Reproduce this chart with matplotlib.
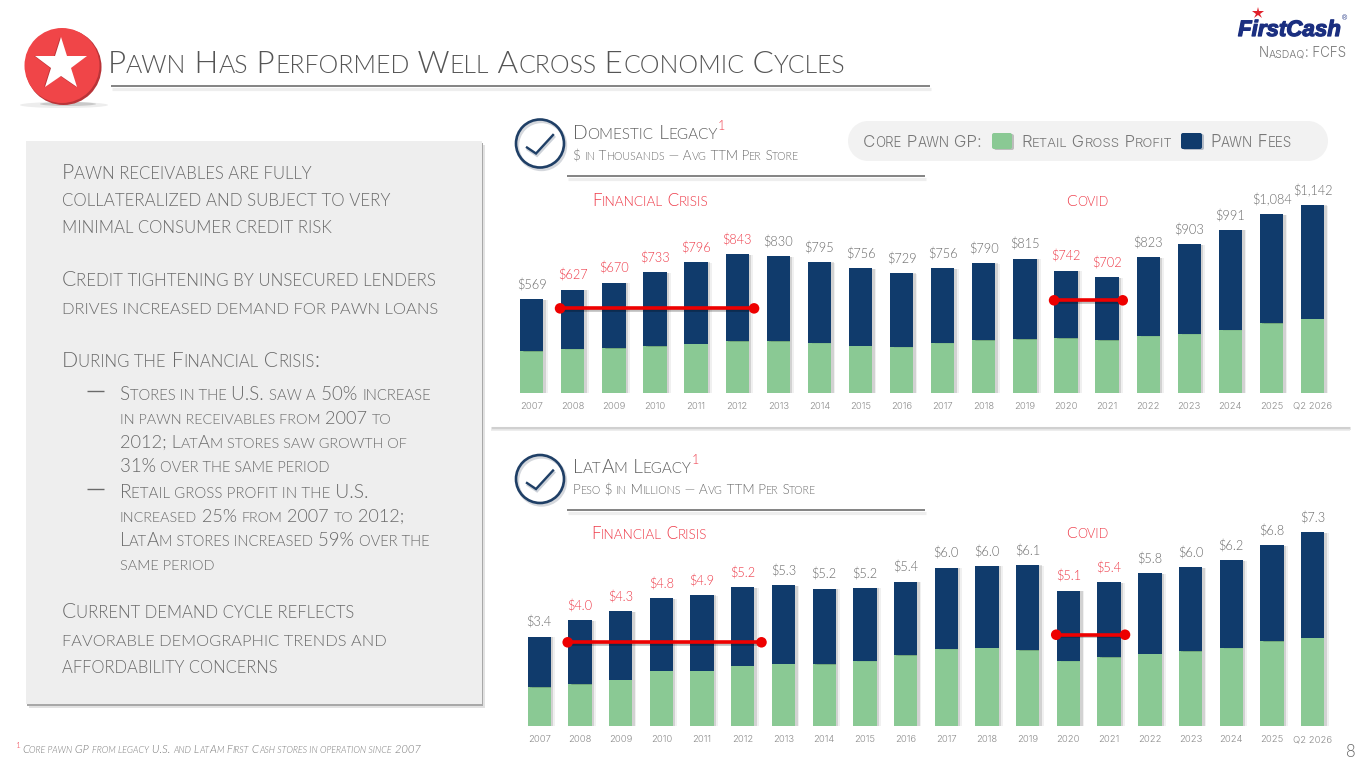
import re
import matplotlib
matplotlib.use('Agg')
import matplotlib.pyplot as plt
from matplotlib.font_manager import FontProperties
from matplotlib.patches import Rectangle, Circle, FancyBboxPatch, Ellipse
import matplotlib.patheffects as pe

# ---------- data ----------
years = ['2007', '2008', '2009', '2010', '2011', '2012', '2013', '2014', '2015', '2016',
         '2017', '2018', '2019', '2020', '2021', '2022', '2023', '2024', '2025', 'Q2 2026']

dom_retail = [251, 266, 270, 282, 298, 312, 312, 302, 286, 278,
              302, 318, 324, 330, 318, 345, 357, 381, 422, 450]
dom_fees = [318, 361, 400, 451, 498, 531, 518, 493, 470, 451,
            454, 472, 491, 412, 384, 478, 546, 610, 662, 692]
dom_labels = ['$569', '$627', '$670', '$733', '$796', '$843', '$830', '$795', '$756', '$729',
              '$756', '$790', '$815', '$742', '$702', '$823', '$903', '$991', '$1,084', '$1,142']

lat_retail = [1.46, 1.57, 1.75, 2.09, 2.09, 2.27, 2.35, 2.32, 2.45, 2.66,
              2.90, 2.95, 2.86, 2.45, 2.59, 2.73, 2.81, 2.94, 3.19, 3.33]
lat_fees = [1.91, 2.41, 2.57, 2.72, 2.85, 2.96, 2.96, 2.86, 2.76, 2.78,
            3.07, 3.09, 3.21, 2.65, 2.82, 3.02, 3.18, 3.30, 3.62, 3.97]
lat_labels = ['$3.4', '$4.0', '$4.3', '$4.8', '$4.9', '$5.2', '$5.3', '$5.2', '$5.2', '$5.4',
              '$6.0', '$6.0', '$6.1', '$5.1', '$5.4', '$5.8', '$6.0', '$6.2', '$6.8', '$7.3']

crisis_years = ['2008', '2009', '2010', '2011', '2012', '2020', '2021']

dom_crisis_x, dom_crisis_y = [0.69, 5.41], [513, 513]
dom_covid_x, dom_covid_y = [12.71, 14.38], [562, 562]
lat_crisis_x, lat_crisis_y = [0.70, 5.46], [3.155, 3.155]
lat_covid_x, lat_covid_y = [12.70, 14.39], [3.44, 3.44]

# ---------- style ----------
W, H = 1365, 768
FONT = 'Lato'
WIDE = 'Inter'
LW = 300
GREEN = '#8AC994'
NAVY = '#103B6C'
RED = '#EE3A48'
GRAY = '#6A6A6A'
LIGHT = '#8C8C8C'

fig = plt.figure(figsize=(W / 100, H / 100), dpi=100, facecolor='white')
bg = fig.add_axes([0, 0, 1, 1], zorder=0)
bg.set_xlim(0, W)
bg.set_ylim(H, 0)
bg.axis('off')
rend = fig.canvas.get_renderer()


def measure(s, fp):
    w1 = rend.get_text_width_height_descent('|' + s + '|', fp, False)[0]
    w0 = rend.get_text_width_height_descent('||', fp, False)[0]
    return w1 - w0


def sc(x, y, s, size, color=GRAY, width=None, family=FONT, weight=LW,
       style='normal', ratio=0.79, small=True, effects=None):
    """Draw s in small caps with its left edge at x and baseline at y (pixels)."""
    runs = []
    if small:
        for m in re.finditer(r'[a-z]+(?: [a-z]+)*|[^a-z]+', s):
            t = m.group(0)
            runs.append((t.upper(), t.islower()))
    else:
        runs = [(s, False)]

    def total(sz):
        out = 0
        for t, low in runs:
            fp = FontProperties(family=family, weight=weight, style=style,
                                size=sz * (ratio if low else 1))
            out += measure(t, fp)
        return out

    if width is not None:
        size = size * width / total(size)
    px = x
    for t, low in runs:
        sz = size * (ratio if low else 1)
        fp = FontProperties(family=family, weight=weight, style=style, size=sz)
        bg.text(px, y, t, fontproperties=fp, color=color, va='baseline', ha='left',
                path_effects=effects)
        px += measure(t, fp)
    return px


def rule(x0, x1, y, color='#7A7A7A', lw=1.3):
    bg.plot([x0 + 1, x1 + 1], [y + 2.5, y + 2.5], color='#EEEEEE', lw=lw + 1, solid_capstyle='butt')
    bg.plot([x0, x1], [y, y], color=color, lw=lw, solid_capstyle='butt')


def check_icon(cx, cy):
    bg.add_patch(Circle((cx + 1.5, cy + 2), 24, fill=False, ec='#D5D8DD', lw=2.4))
    bg.add_patch(Circle((cx, cy), 24, fill=False, ec='#1F3F66', lw=1.9))
    xs = [cx - 13, cx - 4, cx + 13]
    ys = [cy + 4, cy + 10, cy - 8.5]
    bg.plot([v + 1 for v in xs], [v + 2 for v in ys], color='#CDD2D9', lw=2.0, solid_joinstyle='miter')
    bg.plot(xs, ys, color='#1F3F66', lw=1.7, solid_joinstyle='miter')


# ---------- header ----------
bg.add_patch(Ellipse((64, 105), 88, 6, color='#EDEDED', lw=0))
bg.add_patch(Ellipse((68, 104), 56, 4, color='#C9C9C9', lw=0))
bg.add_patch(Circle((63.5, 67), 38, color='#B93438', lw=0))
bg.add_patch(Circle((62, 65.5), 37.5, color='#F04548', lw=0))
bg.plot([59.5], [64.5], marker='*', ms=40, color='#BF3236', mew=0)
bg.plot([61], [64.5], marker='*', ms=40, color='white', mew=0)

sc(108, 73, 'Pawn Has Performed Well Across Economic Cycles', 24, color='#555555', width=738)
rule(111, 930, 86)

# logo
sc(1238, 36, 'FirstCash', 26, color='#1B2F80', width=103,
   family=['Liberation Sans Narrow', 'Liberation Sans'], weight='bold', style='italic', small=False,
   effects=[pe.withStroke(linewidth=0.9, foreground='#1B2F80')])
bg.plot([1258], [12.5], marker='*', ms=9, color='#E0202A', mew=0)
bg.text(1342, 20, '®', family='Liberation Sans', size=5, color='#1B2F80', va='baseline', ha='left')
sc(1259, 57, 'Nasdaq: FCFS', 10, color='#777777', family=WIDE, width=88)

# ---------- left panel ----------
bg.add_patch(Rectangle((29, 145), 456, 563, color='#E2E2E2', lw=0))
bg.add_patch(Rectangle((27, 143), 456, 563, color='#A8A8A8', lw=0))
bg.add_patch(Rectangle((26, 141), 456, 563, color='#EEEEEE', lw=0))

panel_lines = [
    (62, 179, 'Pawn receivables are fully', 250),
    (62, 206, 'collateralized and subject to very', 327),
    (62, 233, 'minimal consumer credit risk', 269),
    (62, 286, 'Credit tightening by unsecured lenders', 373),
    (62, 314, 'drives increased demand for pawn loans', 375),
    (62, 367, 'During the Financial Crisis:', 258),
    (62, 618, 'Current demand cycle reflects', 291),
    (62, 646, 'favorable demographic trends and', 323),
    (62, 673, 'affordability concerns', 215),
]
for x, y, s, w in panel_lines:
    sc(x, y, s, 15.6, width=w)

bullet_lines = [
    (119.5, 400, 'Stores in the U.S. saw a 50% increase', 312.5),
    (119.5, 424, 'in pawn receivables from 2007 to', 273.5),
    (119.5, 448, '2012; LatAm stores saw growth of', 287.5),
    (119.5, 472, '31% over the same period', 211.5),
    (119.5, 498, 'Retail gross profit in the U.S.', 249.5),
    (119.5, 522, 'increased 25% from 2007 to 2012;', 286.5),
    (119.5, 546, 'LatAm stores increased 59% over the', 311.5),
    (119.5, 570, 'same period', 94.5),
]
for x, y, s, w in bullet_lines:
    sc(x, y, s, 14, width=w)
for y in (391, 489):
    bg.plot([86.5, 104], [y, y], color='#6A6A6A', lw=1.0, solid_capstyle='butt')

# ---------- section headers ----------
check_icon(540, 143.5)
end = sc(573, 139, 'Domestic Legacy', 15.3, color='#5F5F5F', width=145)
bg.text(end, 130, '1', family=FONT, weight=LW, size=9, color=RED, va='baseline', ha='left')
sc(573, 160, '$ in Thousands — Avg TTM Per Store', 11.7, color='#6F6F6F', width=228)
rule(567, 925, 176)

check_icon(540, 479)
end = sc(573, 473, 'LatAm Legacy', 15.3, color='#5F5F5F', width=118)
bg.text(end, 464, '1', family=FONT, weight=LW, size=9, color=RED, va='baseline', ha='left')
sc(573, 494, 'Peso $ in Millions — Avg TTM Per Store', 11.7, color='#6F6F6F', width=245)
rule(567, 925, 510)

sc(592, 206, 'Financial Crisis', 13, color=RED, width=118)
sc(1066, 206, 'Covid', 13, color=RED, width=42)
sc(591, 539, 'Financial Crisis', 13, color=RED, width=117)
sc(1066, 538, 'Covid', 13, color=RED, width=42)

# divider between charts
bg.plot([491, 1350], [428, 428], color='#D0D0D0', lw=2.2, solid_capstyle='butt')
bg.plot([491, 1350], [430, 430], color='#EAEAEA', lw=1.2, solid_capstyle='butt')

# ---------- legend ----------
bg.add_patch(Rectangle((868, 121), 440, 40, fc='#F2F2F2', ec='none'))
bg.add_patch(Circle((868, 141), 20, fc='#F2F2F2', ec='none'))
bg.add_patch(Circle((1308, 141), 20, fc='#F2F2F2', ec='none'))
sc(863, 147, 'Core Pawn GP:', 11, color='#777777', family=WIDE, width=119)
bg.add_patch(FancyBboxPatch((994, 134), 20, 16, boxstyle='round,pad=0,rounding_size=2', fc='#BDBDBD', ec='none'))
bg.add_patch(FancyBboxPatch((992, 133), 20, 16, boxstyle='round,pad=0,rounding_size=2', fc=GREEN, ec='none'))
sc(1021, 147, 'Retail Gross Profit', 11, color='#777777', family=WIDE, width=151)
bg.add_patch(FancyBboxPatch((1183, 134), 21, 16, boxstyle='round,pad=0,rounding_size=2', fc='#B5BCC7', ec='none'))
bg.add_patch(FancyBboxPatch((1181, 133), 21, 16, boxstyle='round,pad=0,rounding_size=2', fc=NAVY, ec='none'))
sc(1210, 147, 'Pawn Fees', 11, color='#777777', family=WIDE, width=82)


# ---------- charts ----------
def chart(left_c, step, base_px, top_px, scale, retail, fees, labels, segs):
    left = left_c - step / 2
    width = step * len(years)
    ax = fig.add_axes([left / W, 1 - base_px / H, width / W, (base_px - top_px) / H], zorder=2)
    ax.patch.set_alpha(0)
    ax.set_xlim(-0.5, len(years) - 0.5)
    ax.set_ylim(0, (base_px - top_px) / scale)
    for sp in ax.spines.values():
        sp.set_visible(False)
    ax.yaxis.set_visible(False)
    xs = list(range(len(years)))
    bw = 23.3 / step
    shadow = [pe.withSimplePatchShadow(offset=(3.0, -0.5), shadow_rgbFace='#000000', alpha=0.06),
              pe.withSimplePatchShadow(offset=(1.8, -0.3), shadow_rgbFace='#000000', alpha=0.12),
              pe.Normal()]
    ax.bar(xs, retail, bw, color=GREEN, lw=0, path_effects=shadow)
    ax.bar(xs, fees, bw, bottom=retail, color=NAVY, lw=0, path_effects=shadow)
    for i, lab in enumerate(labels):
        is_red = years[i] in crisis_years
        ax.annotate(lab, (i, retail[i] + fees[i]), xytext=(0, 7.0), textcoords='offset points',
                    ha='center', va='baseline', family=FONT, weight=LW, size=9.2,
                    color=RED if is_red else GRAY)
    ax.set_xticks(xs)
    ax.set_xticklabels(years, family=WIDE, weight=LW, size=6.8, color=LIGHT)
    ax.tick_params(axis='x', length=0, pad=6.5)
    for sx, sy in segs:
        ax.plot(sx, sy, color='#EE0000', lw=2.6, marker='o', ms=7.6, mew=0, solid_capstyle='butt',
                path_effects=[pe.SimpleLineShadow(offset=(1.2, -1.2), shadow_color='black', alpha=0.25),
                              pe.Normal()])
    return ax


chart(531.7, 41.1, 392.7, 170, 0.1644, dom_retail, dom_fees, dom_labels,
      [(dom_crisis_x, dom_crisis_y), (dom_covid_x, dom_covid_y)])
chart(539.2, 40.71, 726, 512, 26.53, lat_retail, lat_fees, lat_labels,
      [(lat_crisis_x, lat_crisis_y), (lat_covid_x, lat_covid_y)])

# ---------- footer ----------
bg.text(15, 748, '1', family=FONT, weight=LW, size=6, color=RED, va='baseline', ha='left')
sc(22, 753, 'Core pawn GP from legacy U.S. and LatAm First Cash stores in operation since 2007', 9,
   color='#777777', style='italic', width=398)
bg.text(1346, 757, '8', family=FONT, weight=LW, size=12, color=GRAY, va='baseline', ha='left')

fig.savefig('out.png', dpi=100, facecolor='white')
